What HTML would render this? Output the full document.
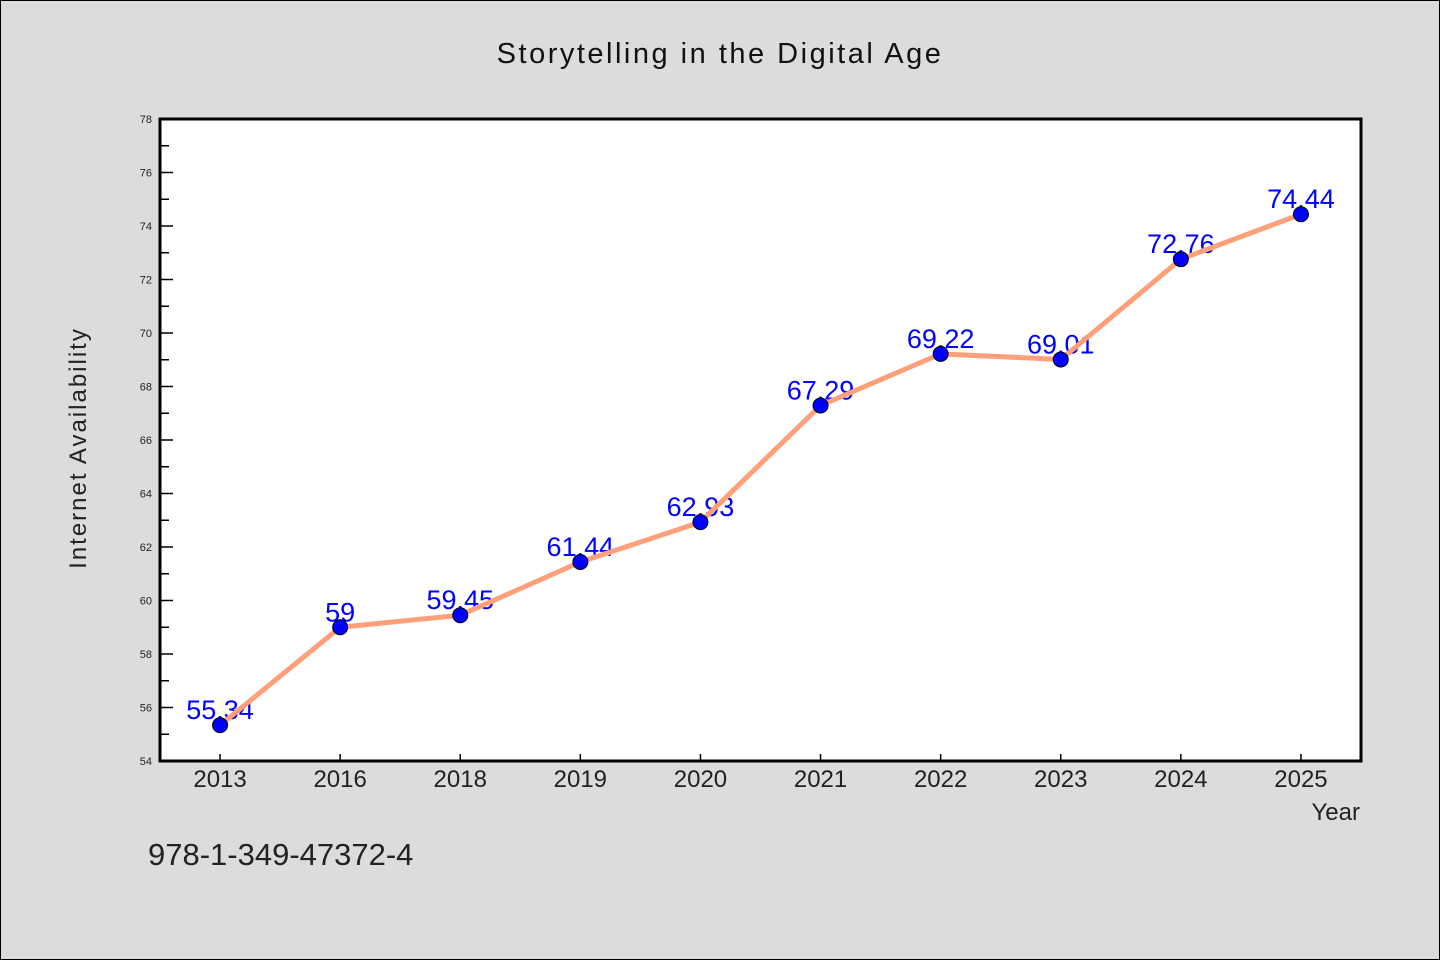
<!DOCTYPE html>
<html><head><meta charset="utf-8"><style>
body{margin:0;background:#dcdcdc}
svg{display:block;font-family:"WenQuanYi Zen Hei","Liberation Sans",sans-serif}
</style></head><body>
<svg id="c" width="1440" height="960">
<rect x="0.5" y="0.5" width="1439" height="959" fill="#dcdcdc" stroke="#000"/>
<text x="720" y="63" text-anchor="middle" font-size="29" fill="#111" letter-spacing="2.5">Storytelling in the Digital Age</text>
<rect x="160" y="119" width="1201" height="642" fill="#fff"/>
<g id="ax"></g>
<g id="marks"></g>
<rect x="160" y="119" width="1201" height="642" fill="none" stroke="#000" stroke-width="3"/>
<text x="86" y="448" text-anchor="middle" font-size="24" fill="#222" letter-spacing="2" transform="rotate(-90 86 448)">Internet Availability</text>
<text x="1360" y="820" text-anchor="end" font-size="24" fill="#222">Year</text>
<text x="148" y="865" font-size="31" fill="#222">978-1-349-47372-4</text>
</svg>
<script>
const categories=["2013","2016","2018","2019","2020","2021","2022","2023","2024","2025"];
const values=[55.34,59,59.45,61.44,62.93,67.29,69.22,69.01,72.76,74.44];
const valueLabels=["55.34","59","59.45","61.44","62.93","67.29","69.22","69.01","72.76","74.44"];
const yTicks=[54,56,58,60,62,64,66,68,70,72,74,76,78];
const NS="http://www.w3.org/2000/svg";
const L=160,R=1361,T=119,B=761,yMin=54,yMax=78;
const band=(R-L)/categories.length;
const x=i=>L+band*(i+0.5);
const y=v=>B-(v-yMin)/(yMax-yMin)*(B-T);
function mk(t,a,p){const e=document.createElementNS(NS,t);for(const k in a)e.setAttribute(k,a[k]);p.appendChild(e);return e;}
const ax=document.getElementById('ax'),mg=document.getElementById('marks');
yTicks.forEach((v,i)=>{
 const l=mk('line',{x1:L,x2:L+13,y1:y(v),y2:y(v),stroke:'#000','stroke-width':1.5},ax);
 
 
 const t=mk('text',{x:L-8,y:y(v)+4,'text-anchor':'end','font-size':11,fill:'#222'},ax);
 t.textContent=v;
 
 
 if(i<yTicks.length-1){
  const m=(v+yTicks[i+1])/2;
  const ml=mk('line',{x1:L,x2:L+9,y1:y(m),y2:y(m),stroke:'#000','stroke-width':1.5},ax);
  
  
 }
});
categories.forEach((c,i)=>{
 const l=mk('line',{x1:x(i),x2:x(i),y1:B,y2:B-7,stroke:'#000','stroke-width':1.5},ax);
 
 
 const t=mk('text',{x:x(i),y:B+26,'text-anchor':'middle','font-size':24,fill:'#222'},ax);
 t.textContent=c;
 
 
});
values.forEach((v,i)=>{
 const t=mk('text',{x:x(i),y:y(v)-6,'text-anchor':'middle','font-size':27,fill:'#0000ff'},mg);
 t.textContent=valueLabels[i];
 
 
});
const pl=mk('polyline',{points:values.map((v,i)=>x(i)+','+y(v)).join(' '),fill:'none',stroke:'#ffa07a','stroke-width':5,'stroke-linejoin':'round'},mg);


values.forEach((v,i)=>{
 const c=mk('circle',{cx:x(i),cy:y(v),r:7.5,fill:'#0000ff',stroke:'#000','stroke-width':1},mg);
 
 
});
</script>
</body></html>
